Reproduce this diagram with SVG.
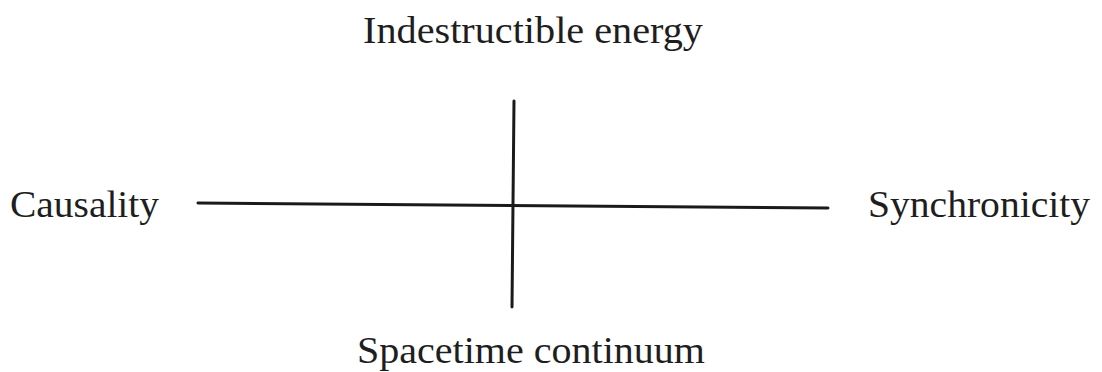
<svg xmlns="http://www.w3.org/2000/svg" width="1102" height="372" viewBox="0 0 1102 372">
<style>
.lbl{font-family:"Liberation Serif","Times New Roman",serif;font-size:37px;fill:#1e1e1e}
.ax{stroke:#1a1a1a;stroke-width:3;stroke-linecap:round;fill:none}
</style>
<rect width="1102" height="372" fill="#ffffff"/>
<g id="connectors">
<line class="ax" x1="198" y1="203" x2="828" y2="208"/>
<line class="ax" x1="514" y1="101" x2="512" y2="307"/>
</g>
<g id="top"><text class="lbl" x="363" y="43" textLength="340" lengthAdjust="spacingAndGlyphs">Indestructible energy</text></g>
<g id="left"><text class="lbl" x="10" y="217" textLength="149" lengthAdjust="spacingAndGlyphs">Causality</text></g>
<g id="right"><text class="lbl" x="868" y="217" textLength="222" lengthAdjust="spacingAndGlyphs">Synchronicity</text></g>
<g id="bottom"><text class="lbl" x="357" y="363" textLength="348" lengthAdjust="spacingAndGlyphs">Spacetime continuum</text></g>
</svg>
